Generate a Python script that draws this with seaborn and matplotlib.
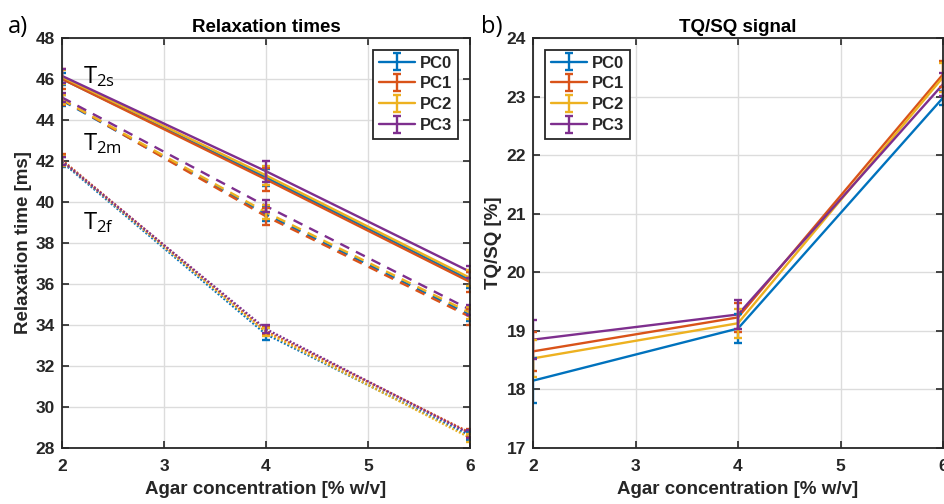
import numpy as np
import pandas as pd
import matplotlib
matplotlib.use("Agg")
import matplotlib.pyplot as plt
import seaborn as sns

# ---------------- data ----------------
agar = [2, 4, 6]
series = ["PC0", "PC1", "PC2", "PC3"]
colors = ["#0072BD", "#D95319", "#EDB120", "#7E2F8E"]

t2s = {"PC0": [46.0, 41.2, 36.2], "PC1": [46.0, 41.1, 36.1],
       "PC2": [46.1, 41.3, 36.3], "PC3": [46.15, 41.5, 36.6]}
t2s_err = {"PC0": [0.3, 0.4, 0.4], "PC1": [0.5, 0.55, 0.5],
           "PC2": [0.35, 0.45, 0.4], "PC3": [0.35, 0.5, 0.3]}
t2m = {"PC0": [44.95, 39.4, 34.5], "PC1": [45.0, 39.3, 34.4],
       "PC2": [45.0, 39.5, 34.6], "PC3": [45.1, 39.8, 34.75]}
t2m_err = {"PC0": [0.25, 0.35, 0.3], "PC1": [0.25, 0.4, 0.4],
           "PC2": [0.2, 0.35, 0.3], "PC3": [0.2, 0.3, 0.25]}
t2f = {"PC0": [41.95, 33.55, 28.6], "PC1": [42.05, 33.7, 28.75],
       "PC2": [42.0, 33.65, 28.5], "PC3": [42.0, 33.8, 28.7]}
t2f_err = {"PC0": [0.25, 0.3, 0.2], "PC1": [0.3, 0.2, 0.2],
           "PC2": [0.25, 0.2, 0.2], "PC3": [0.2, 0.2, 0.2]}
tqsq = {"PC0": [18.15, 19.04, 22.98], "PC1": [18.65, 19.23, 23.38],
        "PC2": [18.53, 19.13, 23.33], "PC3": [18.85, 19.28, 23.21]}
tqsq_err = {"PC0": [0.38, 0.24, 0.12], "PC1": [0.33, 0.25, 0.22],
            "PC2": [0.31, 0.25, 0.25], "PC3": [0.33, 0.25, 0.2]}

comp_labels = ["T$_{2s}$", "T$_{2m}$", "T$_{2f}$"]
comp_label_pos = [(2.206, 45.79), (2.206, 42.54), (2.206, 38.68)]

# ---------------- style ----------------
sns.set_theme(style="whitegrid")
plt.rcParams["font.family"] = ["Liberation Sans", "DejaVu Sans"]
plt.rcParams["mathtext.fontset"] = "custom"
plt.rcParams["mathtext.rm"] = "Open Sans"
plt.rcParams["mathtext.it"] = "Open Sans"

fig = plt.figure(figsize=(9.44, 5.04), dpi=100)
ax1 = fig.add_axes([62 / 944, 1 - 448 / 504, (470 - 62) / 944, (448 - 38) / 504])
ax2 = fig.add_axes([533 / 944, 1 - 448 / 504, (943 - 533) / 944, (448 - 38) / 504])

lw = 1.7
lab_fs = 13.5
tick_fs = 12.5

def style_axes(ax):
    ax.set_facecolor("white")
    ax.grid(True, color="#dcdcdc", linewidth=1.0)
    for s in ax.spines.values():
        s.set_color("#262626")
        s.set_linewidth(1.3)
        s.set_visible(True)
    ax.tick_params(axis="both", which="both", direction="in", length=5, width=1.2,
                   color="#262626", top=True, right=True, bottom=True, left=True,
                   labelsize=tick_fs, pad=5)
    ax.tick_params(axis="x", pad=8)
    for lab in ax.get_xticklabels() + ax.get_yticklabels():
        lab.set_fontweight("bold")
        lab.set_color("#262626")

# ---------------- left panel ----------------
rows = []
for comp, d in zip(["T2s", "T2m", "T2f"], [t2s, t2m, t2f]):
    for s in series:
        for x, v in zip(agar, d[s]):
            rows.append({"agar": x, "val": v, "pc": s, "comp": comp})
df1 = pd.DataFrame(rows)

sns.lineplot(data=df1, x="agar", y="val", hue="pc", style="comp",
             hue_order=series, palette=colors,
             style_order=["T2s", "T2m", "T2f"],
             dashes={"T2s": "", "T2m": (4.2, 3.2), "T2f": (0.8, 0.8)},
             units="comp", estimator=None, linewidth=lw, legend=False, ax=ax1)

for d, e in zip([t2s, t2m, t2f], [t2s_err, t2m_err, t2f_err]):
    for s, c in zip(series, colors):
        ax1.errorbar(agar, d[s], yerr=e[s], fmt="none", ecolor=c, elinewidth=lw,
                     capsize=2.8, capthick=lw)

ax1.set_xlim(2, 6)
ax1.set_ylim(28, 48)
ax1.set_xticks([2, 3, 4, 5, 6])
ax1.set_yticks(np.arange(28, 49, 2))
ax1.set_xlabel("Agar concentration [% w/v]", fontsize=lab_fs, fontweight="bold",
               color="#262626", labelpad=5)
ax1.set_ylabel("Relaxation time [ms]", fontsize=lab_fs, fontweight="bold",
               color="#262626", labelpad=3)
ax1.set_title("Relaxation times", fontsize=lab_fs, fontweight="bold", color="black", pad=4)
style_axes(ax1)

for lab, (xx, yy) in zip(comp_labels, comp_label_pos):
    ax1.text(xx, yy, lab, fontsize=17, family="Open Sans", color="black",
             va="baseline", ha="left")

# ---------------- right panel ----------------
rows = []
for s in series:
    for x, v in zip(agar, tqsq[s]):
        rows.append({"agar": x, "val": v, "pc": s})
df2 = pd.DataFrame(rows)
sns.lineplot(data=df2, x="agar", y="val", hue="pc", hue_order=series,
             palette=colors, estimator=None, linewidth=lw, legend=False, ax=ax2)
for s, c in zip(series, colors):
    ax2.errorbar(agar, tqsq[s], yerr=tqsq_err[s], fmt="none", ecolor=c,
                 elinewidth=lw, capsize=2.8, capthick=lw)

ax2.set_xlim(2, 6)
ax2.set_ylim(17, 24)
ax2.set_xticks([2, 3, 4, 5, 6])
ax2.set_yticks(np.arange(17, 25, 1))
ax2.set_xlabel("Agar concentration [% w/v]", fontsize=lab_fs, fontweight="bold",
               color="#262626", labelpad=5)
ax2.set_ylabel("TQ/SQ [%]", fontsize=lab_fs, fontweight="bold", color="#262626",
               labelpad=3)
ax2.set_title("TQ/SQ signal", fontsize=lab_fs, fontweight="bold", color="black", pad=4)
style_axes(ax2)

# ---------------- legends ----------------
def make_legend(ax, loc):
    handles = []
    for s, c in zip(series, colors):
        h = ax.errorbar([np.nan], [np.nan], yerr=[np.nan], fmt="-", color=c,
                        ecolor=c, linewidth=lw, elinewidth=lw, capsize=2.8,
                        capthick=lw, label=s)
        handles.append(h)
    leg = ax.legend(handles=handles, loc=loc, frameon=True, fancybox=False,
                    edgecolor="#262626", framealpha=1, borderpad=0.35,
                    handlelength=2.2, handletextpad=0.3, labelspacing=0.35,
                    borderaxespad=0.7,
                    prop={"weight": "bold", "size": 12, "family": "Liberation Sans"})
    leg.get_frame().set_linewidth(1.3)
    return leg

make_legend(ax1, "upper right")
make_legend(ax2, "upper left")

# ---------------- panel letters ----------------
fig.text(8 / 944, 1 - 27 / 504, "a)", fontsize=17, family="Open Sans",
         color="black", va="center", ha="left")
fig.text(481 / 944, 1 - 27 / 504, "b)", fontsize=17, family="Open Sans",
         color="black", va="center", ha="left")

fig.savefig("out.png", dpi=100)
